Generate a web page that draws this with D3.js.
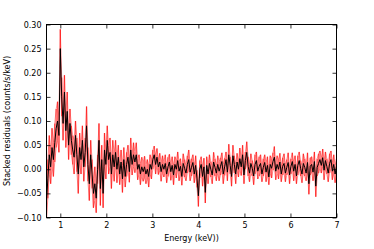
<!DOCTYPE html>
<html>
<head>
<meta charset="utf-8">
<script src="https://cdn.jsdelivr.net/npm/d3@7"></script>
<style>
  body { margin: 0; background: #fff; }
  svg text { font-family: "DejaVu Sans", sans-serif; fill: #000; }
</style>
</head>
<body>
<div id="chart"></div>
<script>
// Binning of the spectrum (keV)
const binStart = 0.70;
const binWidth = 0.03;

// Stacked residuals (counts/s/keV), one value per bin
const residuals = [
  -0.065,-0.020,0.030,0.005,0.045,0.020,0.055,0.085,0.100,0.070,
  0.250,0.150,0.095,0.160,0.080,0.120,0.050,0.095,0.060,0.040,
  0.025,0.070,0.030,-0.010,0.045,0.020,0.060,0.005,0.035,0.090,
  0.010,-0.030,0.030,-0.010,-0.050,-0.030,-0.060,0.000,0.060,-0.040,
  0.020,-0.050,0.040,0.010,0.060,0.020,0.035,-0.010,0.030,0.005,
  0.035,0.000,0.025,-0.010,0.015,-0.020,0.020,-0.015,0.010,0.025,
  -0.005,0.040,0.010,0.030,0.015,0.030,0.000,0.010,-0.010,0.005,
  -0.005,0.005,-0.010,0.000,-0.015,0.010,0.000,
  0.020,0.030,0.010,0.025,0.005,0.015,-0.005,0.010,0.000,0.012,
  -0.010,0.005,0.015,-0.005,0.008,-0.012,0.010,0.000,0.018,-0.004,
  0.006,-0.015,0.012,0.002,-0.008,0.010,0.020,-0.006,0.004,0.014,
  -0.010,0.008,-0.020,-0.055,0.000,0.010,-0.015,0.005,-0.048,0.008,
  -0.010,0.012,0.000,-0.012,0.015,0.004,-0.008,0.010,-0.004,0.006,
  0.016,-0.010,0.005,0.020,-0.006,0.030,0.008,-0.015,0.028,0.010,
  -0.010,0.015,0.000,0.022,0.005,0.030,-0.012,0.018,0.035,0.006,
  -0.008,0.012,0.002,-0.014,0.010,0.018,-0.004,0.006,0.012,-0.010,
  0.004,0.014,-0.006,0.008,-0.016,0.010,0.002,0.016,0.025,-0.004,
  0.010,0.000,0.015,-0.010,0.006,0.012,-0.008,0.004,0.014,-0.012,
  0.006,0.016,-0.004,0.010,-0.014,0.008,0.018,0.002,-0.010,0.012,
  0.004,-0.008,0.014,-0.030,0.006,0.010,-0.006,0.016,-0.035,0.004,
  0.012,0.020,0.008,0.024,-0.002,0.018,0.006,-0.008,0.012,0.020,
  -0.004,0.010,-0.010,0.006
];

// 1-sigma errors per bin
const errors = [
  0.035,0.040,0.040,0.035,0.040,0.035,0.040,0.040,0.040,0.035,
  0.040,0.040,0.035,0.035,0.035,0.040,0.030,0.030,0.030,0.030,
  0.035,0.030,0.035,0.040,0.030,0.030,0.030,0.030,0.030,0.040,
  0.035,0.035,0.030,0.030,0.030,0.035,0.030,0.030,0.035,0.035,
  0.030,0.030,0.035,0.030,0.030,0.030,0.030,0.030,0.030,0.030,
  0.025,0.028,0.025,0.022,0.025,0.028,0.025,0.022,0.025,0.025,
  0.022,0.025,0.022,0.025,0.022,0.025,0.022,0.020,0.022,0.020,
  0.020,0.022,0.020,0.020,0.022,0.020,0.020,
  0.020,0.018,0.020,0.018,0.016,0.018,0.020,0.018,0.016,0.018,
  0.018,0.020,0.016,0.018,0.018,0.020,0.016,0.018,0.018,0.020,
  0.016,0.018,0.020,0.018,0.016,0.018,0.020,0.018,0.018,0.016,
  0.018,0.020,0.018,0.022,0.018,0.016,0.020,0.018,0.022,0.018,
  0.020,0.018,0.016,0.018,0.020,0.018,0.016,0.018,0.020,0.018,
  0.018,0.020,0.018,0.016,0.018,0.022,0.018,0.020,0.022,0.018,
  0.020,0.018,0.016,0.022,0.018,0.020,0.018,0.018,0.022,0.020,
  0.018,0.020,0.016,0.018,0.020,0.018,0.016,0.020,0.018,0.016,
  0.018,0.016,0.020,0.018,0.016,0.018,0.020,0.018,0.022,0.018,
  0.018,0.020,0.018,0.016,0.018,0.020,0.018,0.016,0.020,0.018,
  0.016,0.018,0.020,0.018,0.016,0.020,0.018,0.016,0.018,0.020,
  0.018,0.016,0.020,0.022,0.018,0.016,0.018,0.020,0.022,0.018,
  0.020,0.018,0.016,0.018,0.020,0.018,0.016,0.018,0.020,0.018,
  0.018,0.020,0.018,0.016
];

const xTicks = [1, 2, 3, 4, 5, 6, 7];
const yTicks = [-0.10, -0.05, 0.00, 0.05, 0.10, 0.15, 0.20, 0.25, 0.30];

const width = 374, height = 249;
const margin = {top: 24.5, right: 37.5, bottom: 31.5, left: 46.5};

const data = residuals.map((v, i) => ({
  e: binStart + i * binWidth,
  y: v,
  err: errors[i]
}));

const x = d3.scaleLinear().domain([0.7, 7]).range([margin.left, width - margin.right]);
const y = d3.scaleLinear().domain([-0.10, 0.30]).range([height - margin.bottom, margin.top]);

const svg = d3.select("#chart")
  .append("svg")
  .attr("width", width)
  .attr("height", height);

// clip so nothing spills over the frame
svg.append("clipPath").attr("id", "clip")
  .append("rect")
  .attr("x", margin.left).attr("y", margin.top)
  .attr("width", width - margin.left - margin.right)
  .attr("height", height - margin.top - margin.bottom);

const plot = svg.append("g").attr("clip-path", "url(#clip)");

// red error bars
plot.selectAll(".ebar")
  .data(data)
  .enter()
  .append("line")
  .attr("class", "ebar")
  .attr("x1", d => x(d.e)).attr("x2", d => x(d.e))
  .attr("y1", d => y(d.y - d.err)).attr("y2", d => y(d.y + d.err))
  .attr("stroke", "#ff0000")
  .attr("stroke-opacity", 0.6)
  .attr("stroke-width", 1.3);

// red envelope lines give the jagged edges
["lo", "hi"].forEach(k => {
  plot.append("path")
    .datum(data)
    .attr("fill", "none")
    .attr("stroke", "#ff0000")
    .attr("stroke-opacity", 0.55)
    .attr("stroke-width", 0.8)
    .attr("d", d3.line()
      .x(d => x(d.e))
      .y(d => y(k === "lo" ? d.y - d.err : d.y + d.err)));
});

// black residual line
plot.append("path")
  .datum(data)
  .attr("fill", "none")
  .attr("stroke", "#000")
  .attr("stroke-width", 1)
  .attr("d", d3.line().x(d => x(d.e)).y(d => y(d.y)));

// axes (ticks inside, on all four sides)
const tickLen = 4;
const fmt = d3.format(".2f");

const axB = svg.append("g")
  .attr("transform", `translate(0,${height - margin.bottom})`)
  .call(d3.axisBottom(x).tickValues(xTicks).tickSize(-tickLen).tickPadding(5).tickFormat(d3.format("d")));
const axT = svg.append("g")
  .attr("transform", `translate(0,${margin.top})`)
  .call(d3.axisTop(x).tickValues(xTicks).tickSize(-tickLen).tickFormat(""));
const axL = svg.append("g")
  .attr("transform", `translate(${margin.left},0)`)
  .call(d3.axisLeft(y).tickValues(yTicks).tickSize(-tickLen).tickPadding(5)
    .tickFormat(d => fmt(d).replace("-", "\u2212")));
const axR = svg.append("g")
  .attr("transform", `translate(${width - margin.right},0)`)
  .call(d3.axisRight(y).tickValues(yTicks).tickSize(-tickLen).tickFormat(""));

[axB, axT, axL, axR].forEach(g => {
  g.select(".domain").remove();
  g.selectAll(".tick line").attr("stroke", "#000").attr("stroke-width", 0.8);
  g.selectAll("text").attr("font-size", 8).attr("font-family", "DejaVu Sans, sans-serif");
});

// frame
svg.append("rect")
  .attr("x", margin.left).attr("y", margin.top)
  .attr("width", width - margin.left - margin.right)
  .attr("height", height - margin.top - margin.bottom)
  .attr("fill", "none")
  .attr("stroke", "#000")
  .attr("stroke-width", 1);

// axis labels
svg.append("text")
  .attr("x", (margin.left + width - margin.right) / 2)
  .attr("y", 241)
  .attr("text-anchor", "middle")
  .attr("font-size", 8)
  .text("Energy (keV))");

svg.append("text")
  .attr("transform", `translate(10,${(margin.top + height - margin.bottom) / 2}) rotate(-90)`)
  .attr("text-anchor", "middle")
  .attr("font-size", 8)
  .text("Stacked residuals (counts/s/keV)");
</script>
</body>
</html>
